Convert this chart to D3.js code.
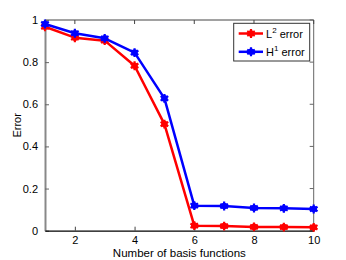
<!DOCTYPE html>
<html><head><meta charset="utf-8">
<script src="https://cdn.jsdelivr.net/npm/d3@7"></script>
<style>body{margin:0;background:#fff;}svg{display:block;font-family:"Liberation Sans",Arial,sans-serif;}</style>
</head><body><svg id="c" width="346" height="260"></svg>
<script>
const basis = [1,2,3,4,5,6,7,8,9,10];
const l2Error = [0.968,0.916,0.902,0.783,0.506,0.024,0.022,0.018,0.017,0.016];
const h1Error = [0.981,0.937,0.913,0.845,0.628,0.119,0.117,0.108,0.106,0.103];
const xTicks = [2,4,6,8,10];
const yTicks = [0,0.2,0.4,0.6,0.8,1];
const seriesNames = [["L","2"," error"],["H","1"," error"]];
const colors = ["#ff0000","#0000ff"];

const svg = d3.select("#c");
const L=45,R=313.7,T=20,B=230.7;
const x = d3.scaleLinear().domain([1,10]).range([L,R]);
const y = d3.scaleLinear().domain([0,1]).range([B,T]);

// frame
svg.append("line").attr("x1",L).attr("x2",R).attr("y1",T).attr("y2",T).attr("stroke","#444").attr("stroke-width",1);
svg.append("line").attr("x1",R).attr("x2",R).attr("y1",T).attr("y2",B).attr("stroke","#666").attr("stroke-width",1);

const fmt = d => d===0||d===1 ? String(d) : d3.format(".1f")(d);
const ya = svg.append("g").attr("transform",`translate(${L},0)`)
  .call(d3.axisLeft(y).tickValues(yTicks).tickFormat(fmt).tickSizeInner(-4).tickSizeOuter(0).tickPadding(7));
ya.select(".domain").attr("stroke","#888").attr("stroke-width",2);
ya.selectAll(".tick line").attr("stroke","#666");
ya.selectAll("text").attr("font-size",11).attr("fill","#000");
// right ticks
svg.append("g").selectAll("line").data(yTicks).join("line")
  .attr("x1",R).attr("x2",R-4).attr("y1",d=>y(d)).attr("y2",d=>y(d)).attr("stroke","#666");

const xa = svg.append("g").attr("transform",`translate(0,${B})`)
  .call(d3.axisBottom(x).tickValues(xTicks).tickSizeInner(-4).tickSizeOuter(0).tickPadding(5.5));
xa.select(".domain").attr("stroke","#000").attr("stroke-width",1.3);
xa.selectAll(".tick line").attr("stroke","#444");
xa.selectAll("text").attr("font-size",11).attr("fill","#000");
svg.append("g").selectAll("line").data(xTicks).join("line")
  .attr("x1",d=>x(d)).attr("x2",d=>x(d)).attr("y1",T).attr("y2",T+4).attr("stroke","#444");

svg.append("text").attr("x",x(5.5)).attr("y",256.5).attr("text-anchor","middle").attr("font-size",11.5).text("Number of basis functions");
svg.append("text").attr("transform",`translate(21,${(T+B)/2}) rotate(-90)`).attr("text-anchor","middle").attr("font-size",11).text("Error");

const line = d3.line().x((d,i)=>x(basis[i])).y(d=>y(d));
const star = d3.symbol().type(d3.symbolAsterisk).size(55);
function marker(g,cx,cy,col){
  g.append("circle").attr("cx",cx).attr("cy",cy).attr("r",3.3).attr("fill",col);
  g.append("path").attr("d",star).attr("transform",`translate(${cx},${cy})`).attr("stroke",col).attr("stroke-width",2.2).attr("fill","none");
}
[l2Error,h1Error].forEach((s,k)=>{
  const g = svg.append("g");
  g.append("path").datum(s).attr("d",line).attr("fill","none").attr("stroke",colors[k]).attr("stroke-width",2.5).attr("stroke-linejoin","round");
  s.forEach((v,i)=>marker(g,x(basis[i]),y(v),colors[k]));
});

// legend
const lg = svg.append("g");
lg.append("rect").attr("x",233.7).attr("y",23.3).attr("width",76).attr("height",37.7).attr("fill","#fff").attr("stroke","#333").attr("stroke-width",1);
seriesNames.forEach((n,k)=>{
  const yy = 33.5 + k*18.3;
  lg.append("line").attr("x1",238.7).attr("x2",263).attr("y1",yy).attr("y2",yy).attr("stroke",colors[k]).attr("stroke-width",2.5);
  marker(lg,251,yy,colors[k]);
  const t = lg.append("text").attr("x",266).attr("y",yy+4).attr("font-size",11);
  t.append("tspan").text(n[0]);
  t.append("tspan").attr("dy",-5).attr("font-size",8).text(n[1]);
  t.append("tspan").attr("dy",5).text(n[2]);
});
</script></body></html>
